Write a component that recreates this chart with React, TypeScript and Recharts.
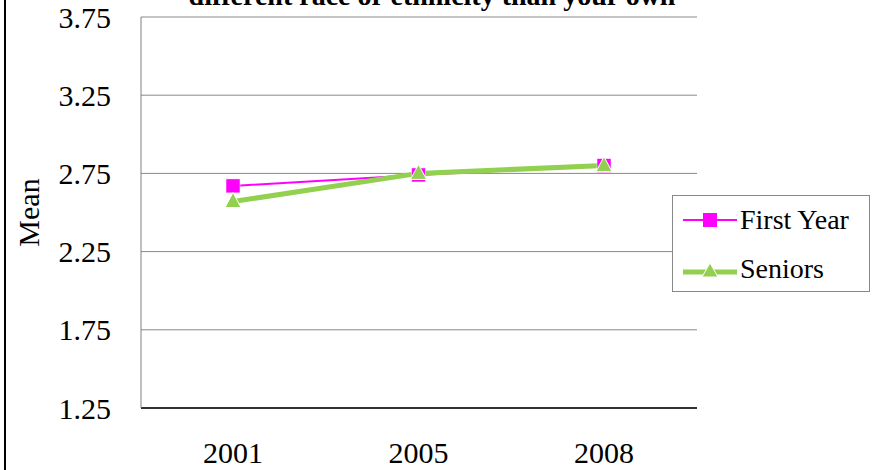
import React from 'react';
import { LineChart, Line, XAxis, YAxis, CartesianGrid, Legend, Label } from 'recharts';

const years = ['2001', '2005', '2008'];
const firstYear = [2.67, 2.74, 2.8];
const seniors = [2.57, 2.75, 2.8];
const yTicks = [1.25, 1.75, 2.25, 2.75, 3.25, 3.75];

const data = years.map((year, i) => ({ year, firstYear: firstYear[i], seniors: seniors[i] }));

const FONT = '"Liberation Serif", "Times New Roman", serif';
const MAGENTA = '#FF00FF';
const GREEN = '#92D050';

const SquareDot = (props: any) => {
  const { cx, cy } = props;
  if (cx == null || cy == null) return null;
  return <rect x={cx - 7} y={cy - 7} width={14} height={14} fill={MAGENTA} stroke="#fff" strokeWidth={0.5} />;
};

const TriangleDot = (props: any) => {
  const { cx, cy } = props;
  if (cx == null || cy == null) return null;
  return (
    <polygon
      points={`${cx},${cy - 9} ${cx + 8},${cy + 6} ${cx - 8},${cy + 6}`}
      fill={GREEN}
      stroke="#fff"
      strokeWidth={1}
    />
  );
};

const LegendBox = () => (
  <div
    style={{
      border: '1px solid #888',
      width: 196,
      height: 95,
      background: '#fff',
      fontFamily: FONT,
      fontSize: 28,
      color: '#000',
      boxSizing: 'content-box',
      textAlign: 'left',
    }}
  >
    <div style={{ display: 'flex', alignItems: 'center', height: 28, marginTop: 10, marginLeft: 10 }}>
      <svg width={54} height={20}>
        <line x1={0} y1={10} x2={54} y2={10} stroke={MAGENTA} strokeWidth={2} />
        <rect x={20} y={3} width={14} height={14} fill={MAGENTA} />
      </svg>
      <span style={{ marginLeft: 3, lineHeight: '28px' }}>First Year</span>
    </div>
    <div style={{ display: 'flex', alignItems: 'center', height: 28, marginTop: 21, marginLeft: 10 }}>
      <svg width={54} height={20}>
        <line x1={0} y1={13} x2={54} y2={13} stroke={GREEN} strokeWidth={5} />
        <polygon points="27,4 35,18 19,18" fill={GREEN} stroke="#fff" strokeWidth={1} />
      </svg>
      <span style={{ marginLeft: 3, lineHeight: '28px' }}>Seniors</span>
    </div>
  </div>
);

export default function App() {
  return (
    <div style={{ position: 'absolute', left: 0, top: 0, width: 883, height: 470, background: '#fff', overflow: 'hidden' }}>
      <div style={{ position: 'absolute', left: 4, top: 0, width: 2, height: 470, background: '#000' }} />
      <div
        style={{
          position: 'absolute',
          left: 132,
          width: 600,
          top: -18,
          textAlign: 'center',
          fontFamily: FONT,
          fontWeight: 'bold',
          fontSize: 28,
          color: '#000',
          lineHeight: '28px',
          whiteSpace: 'nowrap',
          zIndex: 2,
        }}
      >
        different race or ethnicity than your own
      </div>
      <LineChart
        width={883}
        height={470}
        data={data}
        margin={{ top: 17, right: 186, bottom: 0, left: 0 }}
      >
        <CartesianGrid vertical={false} stroke="#888" strokeWidth={1} />
        <XAxis
          dataKey="year"
          height={62}
          padding={{ left: 92, right: 93 }}
          axisLine={{ stroke: '#000', strokeWidth: 1.5 }}
          tickLine={false}
          tickMargin={28}
          tick={{ fontFamily: FONT, fontSize: 30, fill: '#000' }}
        />
        <YAxis
          width={141}
          domain={[1.25, 3.75]}
          ticks={yTicks}
          interval={0}
          axisLine={{ stroke: '#808080', strokeWidth: 1 }}
          tickLine={false}
          tickMargin={24}
          tickFormatter={(v: number) => v.toFixed(2)}
          tick={{ fontFamily: FONT, fontSize: 30, fill: '#000' }}
        >
          <Label
            value="Mean"
            angle={-90}
            position="insideLeft"
            offset={28}
            style={{ fontFamily: FONT, fontSize: 30, fill: '#000', textAnchor: 'middle' }}
          />
        </YAxis>
        <Legend
          layout="horizontal"
          align="center"
          verticalAlign="middle"
          content={<LegendBox />}
          wrapperStyle={{ position: 'absolute', left: 672, top: 195, width: 198, height: 97 }}
        />
        <Line
          dataKey="firstYear"
          name="First Year"
          stroke={MAGENTA}
          strokeWidth={2}
          dot={<SquareDot />}
          activeDot={false}
          isAnimationActive={false}
        />
        <Line
          dataKey="seniors"
          name="Seniors"
          stroke={GREEN}
          strokeWidth={5}
          dot={<TriangleDot />}
          activeDot={false}
          isAnimationActive={false}
        />
      </LineChart>
    </div>
  );
}
